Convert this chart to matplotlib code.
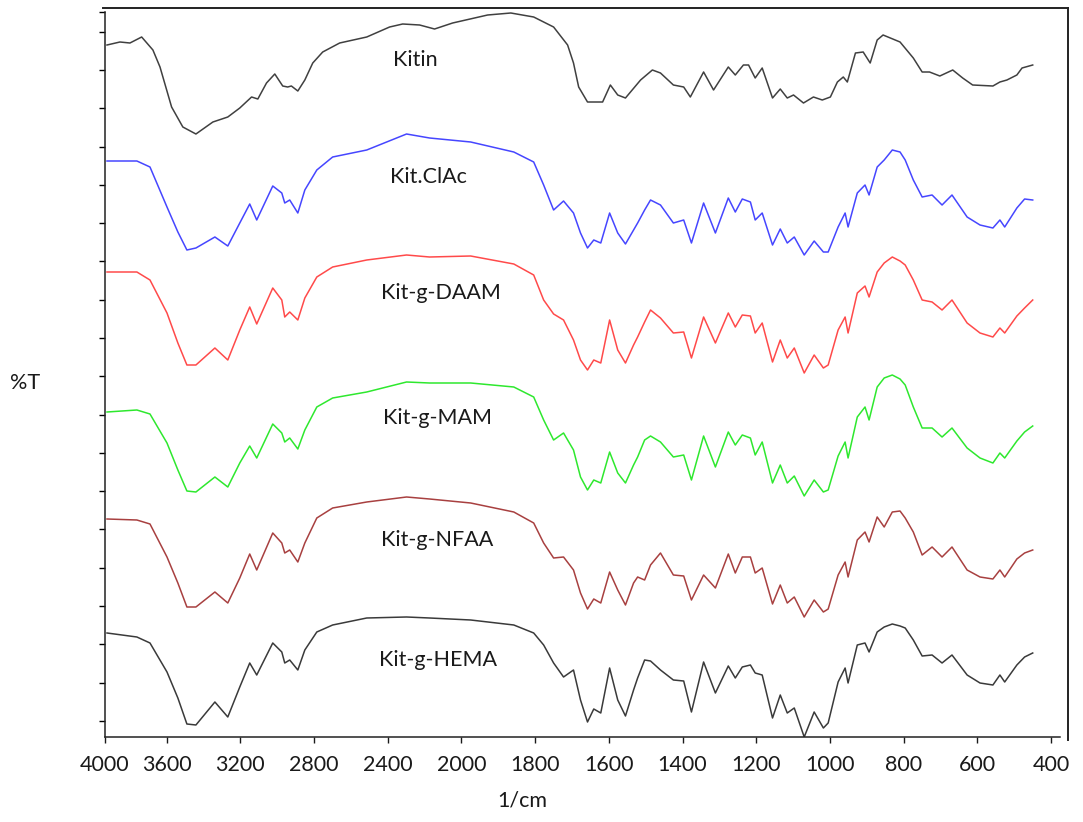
#!/usr/bin/env python3
"""
FTIR spectra of chitin and its graft copolymers (stacked, offset %T).
Output: out.png (1083x822)
"""

import matplotlib
matplotlib.use("Agg")
import matplotlib.pyplot as plt
from matplotlib.lines import Line2D
import numpy as np

plt.rcParams["font.family"] = ["Lato", "DejaVu Sans"]

# ---- data (wavenumber in 1/cm, transmittance with stacking offset) ----
wn_kitin = [3987, 3903, 3838, 3762, 3689, 3643, 3573, 3512, 3441, 3349,
            3268, 3203, 3139, 3105, 3058, 3013, 2970, 2943, 2923, 2888,
            2850, 2807, 2753, 2661, 2514, 2390, 2319, 2227, 2146, 2048,
            1929, 1866, 1804, 1750, 1712, 1696, 1682, 1658, 1617, 1596,
            1576, 1555, 1514, 1482, 1460, 1425, 1397, 1379, 1343, 1316,
            1276, 1257, 1235, 1221, 1203, 1184, 1156, 1135, 1116, 1099,
            1072, 1045, 1021, 999, 980, 964, 953, 931, 910, 891,
            872, 856, 810, 774, 750, 730, 702, 667, 640, 613,
            558, 539, 520, 493, 479, 450]
t_kitin = [138.4, 139.0, 138.8, 140.0, 137.4, 134.0, 126.0, 122.0, 120.6, 123.0,
           124.0, 125.8, 128.0, 127.6, 130.8, 132.6, 130.2, 130.0, 130.2, 129.2,
           131.4, 134.8, 137.0, 138.8, 140.0, 142.0, 142.6, 142.4, 141.6, 142.8,
           144.4, 144.8, 144.0, 142.0, 138.4, 134.8, 130.0, 127.0, 127.0, 130.4,
           128.4, 127.8, 131.4, 133.4, 132.8, 130.4, 130.0, 128.0, 133.0, 129.4,
           134.0, 132.4, 134.4, 134.4, 131.8, 133.8, 127.8, 129.6, 127.8, 128.4,
           126.8, 128.0, 127.4, 128.0, 131.0, 132.0, 131.0, 136.8, 137.0, 134.8,
           139.4, 140.4, 139.0, 135.8, 133.0, 133.0, 132.2, 133.4, 131.8, 130.4,
           130.2, 131.0, 131.4, 132.4, 133.8, 134.4]

# shared wavenumber grid for the modified samples
wn = [3987, 3793, 3708, 3598, 3539, 3490, 3441, 3338, 3268, 3203,
      3149, 3111, 3024, 2975, 2959, 2932, 2888, 2850, 2785, 2699,
      2514, 2298, 2173, 1975, 1858, 1804, 1777, 1750, 1723, 1696,
      1677, 1658, 1641, 1622, 1598, 1576, 1555, 1533, 1522, 1503,
      1487, 1460, 1425, 1397, 1376, 1343, 1311, 1276, 1257, 1238,
      1216, 1203, 1184, 1156, 1135, 1116, 1097, 1070, 1043, 1018,
      1005, 978, 959, 951, 926, 905, 894, 872, 853, 831,
      810, 796, 774, 750, 723, 696, 669, 628, 593, 558,
      539, 526, 493, 472, 450]
t_clac = [115.2, 115.2, 114.0, 106.0, 101.0, 97.4, 97.8, 100.0, 98.2, 102.8,
          106.6, 103.4, 110.2, 108.8, 106.8, 107.4, 104.8, 109.4, 113.4, 116.0,
          117.4, 120.6, 119.8, 119.0, 117.0, 115.0, 110.4, 105.4, 107.2, 104.8,
          100.8, 97.8, 99.4, 98.8, 104.8, 100.8, 98.6, 101.4, 102.8, 105.4,
          107.4, 106.4, 102.8, 103.4, 98.8, 106.8, 100.8, 107.8, 105.0, 107.6,
          107.0, 103.4, 104.8, 98.4, 101.6, 98.8, 100.0, 96.4, 99.2, 97.0,
          97.0, 102.0, 104.8, 102.0, 108.8, 110.4, 108.4, 114.0, 115.4, 117.4,
          117.0, 115.4, 111.4, 108.0, 108.4, 106.4, 108.4, 104.0, 102.4, 101.8,
          103.4, 102.0, 105.8, 107.6, 107.4]
t_daam = [93.0, 93.0, 91.4, 84.8, 78.8, 74.4, 74.4, 77.8, 75.4, 81.4,
          86.0, 82.6, 89.8, 87.4, 84.0, 85.0, 83.4, 87.8, 92.0, 94.0,
          95.4, 96.4, 96.0, 96.2, 94.6, 92.4, 87.4, 84.6, 83.4, 79.4,
          75.4, 73.4, 75.4, 74.8, 83.4, 77.4, 74.8, 78.4, 80.0, 83.0,
          85.4, 83.8, 80.8, 81.0, 75.8, 84.0, 78.8, 84.8, 82.0, 84.4,
          84.2, 80.8, 82.8, 75.0, 79.4, 75.8, 77.8, 72.8, 76.4, 73.8,
          74.4, 81.4, 84.0, 80.8, 88.8, 90.2, 88.0, 93.0, 94.8, 96.0,
          95.2, 94.4, 91.4, 87.4, 87.0, 85.4, 87.4, 82.8, 80.8, 80.0,
          81.8, 80.8, 84.2, 85.8, 87.4]
t_mam = [65.0, 65.4, 64.6, 58.8, 53.4, 49.2, 49.0, 52.0, 50.0, 54.8,
         58.2, 55.8, 62.6, 60.8, 59.0, 59.8, 57.6, 61.4, 66.0, 67.8,
         69.0, 71.0, 70.8, 70.8, 70.0, 68.0, 63.4, 59.4, 60.8, 57.4,
         52.0, 49.4, 51.4, 50.8, 57.0, 52.8, 50.8, 54.4, 56.0, 59.4,
         60.2, 59.0, 56.0, 56.4, 51.4, 60.2, 54.0, 61.0, 58.4, 60.4,
         59.8, 56.4, 59.0, 50.8, 54.4, 50.8, 52.2, 48.2, 51.4, 49.0,
         49.4, 56.2, 59.0, 55.8, 64.0, 66.0, 63.4, 70.0, 71.8, 72.4,
         71.6, 70.4, 66.0, 61.8, 61.8, 60.0, 61.8, 57.8, 55.8, 54.8,
         56.8, 55.8, 59.2, 61.0, 62.2]
t_nfaa = [43.6, 43.4, 42.6, 36.0, 30.8, 26.0, 26.0, 29.0, 26.8, 31.8,
          36.6, 33.4, 40.8, 38.8, 36.8, 37.4, 35.0, 38.8, 43.8, 45.8,
          47.0, 48.0, 47.6, 46.8, 45.0, 42.8, 38.8, 35.8, 36.0, 33.4,
          28.8, 25.6, 27.6, 26.8, 33.0, 29.4, 26.4, 30.8, 32.0, 31.4,
          34.4, 36.8, 32.4, 32.2, 27.4, 32.4, 29.8, 36.6, 32.8, 36.0,
          36.0, 32.8, 33.8, 26.6, 30.4, 26.8, 28.0, 24.0, 27.4, 25.0,
          25.6, 32.4, 35.0, 32.0, 39.4, 41.0, 39.0, 44.0, 42.0, 45.0,
          45.2, 43.8, 41.0, 36.4, 38.0, 36.0, 38.0, 33.4, 32.0, 31.6,
          33.4, 32.0, 35.6, 36.8, 37.4]
t_hema = [20.8, 20.0, 18.8, 13.0, 7.8, 2.6, 2.4, 7.0, 4.0, 10.0,
          14.8, 12.4, 18.8, 17.0, 14.8, 15.4, 13.4, 17.4, 21.0, 22.4,
          23.8, 24.0, 23.8, 23.4, 22.4, 20.8, 18.4, 14.8, 12.0, 13.4,
          7.4, 3.0, 5.6, 4.8, 13.8, 7.4, 4.2, 9.4, 11.8, 15.4,
          15.2, 13.4, 11.4, 11.2, 5.0, 15.0, 8.8, 14.2, 11.8, 14.0,
          14.4, 12.8, 12.4, 3.8, 8.4, 4.8, 5.8, 0.0, 5.0, 1.8,
          2.8, 11.0, 13.8, 10.8, 18.4, 18.8, 17.0, 21.0, 22.0, 22.6,
          22.2, 21.8, 19.4, 16.2, 16.4, 14.8, 16.4, 12.4, 10.8, 10.4,
          12.4, 11.0, 14.4, 16.0, 16.8]

names = ["Kitin", "Kit.ClAc", "Kit-g-DAAM", "Kit-g-MAM", "Kit-g-NFAA", "Kit-g-HEMA"]
label_wn = [2249, 2181, 2113, 2130, 2130, 2130]
label_t = [135.4, 112.0, 88.8, 63.8, 39.4, 15.4]
colors = ["#404040", "#4646ff", "#ff4a4a", "#2ee82e", "#a84040", "#3a3a3a"]

xtick_vals = [4000, 3600, 3200, 2800, 2400, 2000, 1800, 1600, 1400, 1200, 1000, 800, 600, 400]

# instrument style axis: 400 1/cm per tick above 2000, 200 below (first interval shorter)
knots_wn = np.array([0.0, 2000.0, 3600.0, 4000.0, 5000.0])
knots_pos = np.array([-738.0, 0.0, 295.2, 356.9, 511.2])


def fwd(v):
    return np.interp(v, knots_wn, knots_pos)


def inv(p):
    return np.interp(p, knots_pos, knots_wn)


fig = plt.figure(figsize=(10.83, 8.22), dpi=100)
ax = fig.add_axes([0.09695, 0.10341, 0.8818, 0.88199])
ax.set_xscale("function", functions=(fwd, inv))

series = [(wn_kitin, t_kitin), (wn, t_clac), (wn, t_daam),
          (wn, t_mam), (wn, t_nfaa), (wn, t_hema)]
for (xs, ys), c in zip(series, colors):
    ax.plot(xs, ys, color=c, lw=1.1, solid_joinstyle="round")

for name, lx, ly in zip(names, label_wn, label_t):
    ax.text(lx, ly, name, ha="center", va="center", fontsize=15.5, color="#1a1a1a")

ax.set_xlim(4000, 376)
ax.set_ylim(0, 145)
ax.set_xticks(xtick_vals)
ax.set_xticklabels([str(v) for v in xtick_vals])
ax.xaxis.set_minor_locator(plt.NullLocator())
ax.set_yticks(list(np.arange(3.2, 145, 7.66)) + [145])
ax.set_yticklabels([])
ax.tick_params(axis="x", direction="out", length=4, width=1, labelsize=15.5, pad=9, colors="#1a1a1a")
ax.tick_params(axis="y", direction="out", length=4, width=1)

for s in ["top", "right"]:
    ax.spines[s].set_visible(False)
for s in ["left", "bottom"]:
    ax.spines[s].set_color("#222222")
    ax.spines[s].set_linewidth(1.1)

# outer frame (top and right edges)
fig.add_artist(Line2D([0.0951, 0.98615], [0.99027, 0.99027], color="#222222", lw=1.4))
fig.add_artist(Line2D([0.98615, 0.98615], [0.99027, 0.09976], color="#222222", lw=1.4))

fig.text(0.0231, 0.534, "%T", ha="center", va="center", fontsize=15.5, color="#1a1a1a")
fig.text(0.482, 0.0256, "1/cm", ha="center", va="center", fontsize=15.5, color="#1a1a1a")

fig.savefig("out.png", dpi=100)
print("saved out.png")
